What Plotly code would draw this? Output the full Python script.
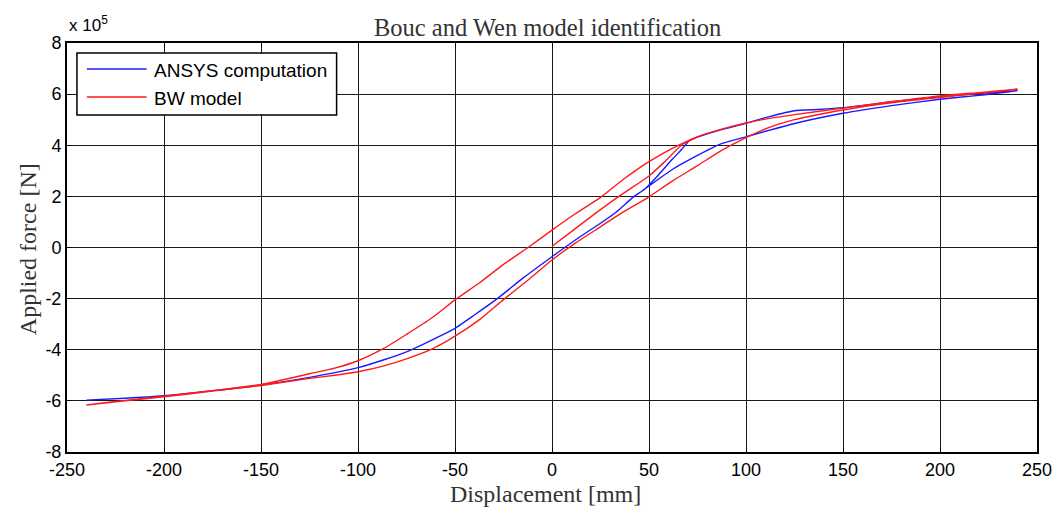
import plotly.graph_objects as go

# Force values are in units of 1e5 N (axis multiplier shown as "x 10^5")
ansys_up_x = [-240, -220, -200, -175, -150, -125, -100, -87, -75, -62, -50, -40, -28, -15, 0, 15, 25, 33, 42, 48]
ansys_up_y = [-5.97, -5.9, -5.8, -5.6, -5.38, -5.08, -4.7, -4.4, -4.08, -3.62, -3.16, -2.64, -1.99, -1.2, -0.36, 0.45, 0.95, 1.38, 1.98, 2.3]
ansys_top_x = [55, 62, 67, 71, 75, 87, 100, 112, 125, 137, 150, 175, 200, 220, 240]
ansys_top_y = [2.85, 3.45, 3.85, 4.2, 4.32, 4.6, 4.86, 5.12, 5.35, 5.4, 5.47, 5.7, 5.9, 6.02, 6.14]
ansys_back_x = [220, 200, 175, 150, 125, 100, 87, 75, 62, 55, 48]
ansys_back_y = [5.95, 5.8, 5.55, 5.25, 4.85, 4.33, 4.05, 3.6, 3.05, 2.68, 2.3]

bw_virgin_x = [0, 10, 20, 33, 42, 50, 58, 67, 75]
bw_virgin_y = [0.05, 0.62, 1.2, 1.92, 2.38, 2.8, 3.35, 4.02, 4.33]
bw_down_x = [240, 220, 200, 175, 150, 125, 112, 100, 87, 75, 62, 50, 37, 25, 12, 0,
             -12, -25, -37, -50, -62, -75, -87, -100, -112, -125, -150, -175, -200, -220, -240]
bw_down_y = [6.19, 6.06, 5.93, 5.7, 5.45, 5.2, 5.05, 4.87, 4.62, 4.33, 3.88, 3.36, 2.68, 1.96, 1.32, 0.68,
             0.02, -0.66, -1.36, -2.05, -2.76, -3.4, -3.96, -4.43, -4.72, -4.94, -5.36, -5.6, -5.82, -5.98, -6.16]
bw_up_x = [-240, -220, -200, -175, -150, -125, -112, -100, -87, -75, -62, -50, -37, -25, -12, 0,
           12, 25, 37, 50, 62, 75, 87, 100, 112, 125, 150, 175, 200, 220, 240]
bw_up_y = [-6.16, -6.0, -5.84, -5.62, -5.4, -5.12, -5.0, -4.86, -4.64, -4.36, -3.98, -3.47, -2.8, -2.04, -1.25, -0.49,
           0.17, 0.81, 1.4, 1.98, 2.6, 3.2, 3.78, 4.3, 4.7, 5.0, 5.38, 5.66, 5.87, 6.03, 6.19]

x_ticks = [-250, -200, -150, -100, -50, 0, 50, 100, 150, 200, 250]
y_ticks = [-8, -6, -4, -2, 0, 2, 4, 6, 8]

ansys_x = ansys_up_x + ansys_top_x + ansys_back_x
ansys_y = ansys_up_y + ansys_top_y + ansys_back_y
# initial loading curve, then the full descending / ascending loop
bw_x = bw_virgin_x + [None] + bw_down_x + bw_up_x[1:]
bw_y = bw_virgin_y + [None] + bw_down_y + bw_up_y[1:]

fig = go.Figure()
fig.add_trace(go.Scatter(x=ansys_x, y=ansys_y, mode="lines", name="ANSYS computation",
                         line=dict(color="#1a1aff", width=1.4, shape="spline", smoothing=0.5),
                         showlegend=False))
fig.add_trace(go.Scatter(x=bw_x, y=bw_y, mode="lines", name="BW model", connectgaps=False,
                         line=dict(color="#ff1a1a", width=1.4, shape="spline", smoothing=0.6),
                         showlegend=False))

serif = "Liberation Serif"
sans = "Liberation Sans"

axis_common = dict(showline=True, linecolor="black", linewidth=2, mirror="ticks",
                   ticks="inside", ticklen=4, tickcolor="black",
                   showgrid=True, gridcolor="#1a1a1a", gridwidth=1.3,
                   zeroline=False, tickfont=dict(family=sans, size=18, color="black"))

fig.update_xaxes(range=[-250, 250], tickvals=x_ticks, ticktext=[str(v) for v in x_ticks], **axis_common)
fig.update_yaxes(range=[-8, 8], tickvals=y_ticks, ticktext=[str(v) for v in y_ticks], **axis_common)

# Legend drawn as a boxed key in the upper-left corner
def px_x(p):
    return (p - 67) / 975

def px_y(p):
    return (452 - p) / 409

shapes = [
    dict(type="rect", xref="paper", yref="paper", x0=px_x(77), x1=px_x(338), y0=px_y(115), y1=px_y(53),
         line=dict(color="black", width=1.5), fillcolor="white", layer="above"),
    dict(type="line", xref="paper", yref="paper", x0=px_x(87), x1=px_x(147), y0=px_y(69), y1=px_y(69),
         line=dict(color="#1a1aff", width=1.4), layer="above"),
    dict(type="line", xref="paper", yref="paper", x0=px_x(87), x1=px_x(147), y0=px_y(97), y1=px_y(97),
         line=dict(color="#ff1a1a", width=1.4), layer="above"),
]

annotations = [
    dict(text="ANSYS computation", xref="paper", yref="paper", x=px_x(152), y=px_y(70),
         xanchor="left", yanchor="middle", showarrow=False, font=dict(family=sans, size=19, color="black")),
    dict(text="BW model", xref="paper", yref="paper", x=px_x(152), y=px_y(98),
         xanchor="left", yanchor="middle", showarrow=False, font=dict(family=sans, size=19, color="black")),
    dict(text="x 10<sup>5</sup>", xref="paper", yref="paper", x=px_x(67), y=px_y(24),
         xanchor="left", yanchor="middle", showarrow=False, font=dict(family=sans, size=17, color="black")),
    dict(text="Bouc and Wen model identification", xref="paper", yref="paper", x=px_x(550), y=px_y(27),
         xanchor="center", yanchor="middle", showarrow=False, font=dict(family=serif, size=24.5, color="#333")),
    dict(text="Displacement [mm]", xref="paper", yref="paper", x=px_x(548), y=px_y(494),
         xanchor="center", yanchor="middle", showarrow=False, font=dict(family=serif, size=24, color="#333")),
    dict(text="Applied force [N]", xref="paper", yref="paper", x=px_x(28), y=px_y(249), textangle=-90,
         xanchor="center", yanchor="middle", showarrow=False, font=dict(family=serif, size=24, color="#333")),
]

fig.update_layout(width=1064, height=509, margin=dict(l=67, r=22, t=43, b=57),
                  paper_bgcolor="white", plot_bgcolor="white",
                  shapes=shapes, annotations=annotations)

fig.write_html("out.html")
